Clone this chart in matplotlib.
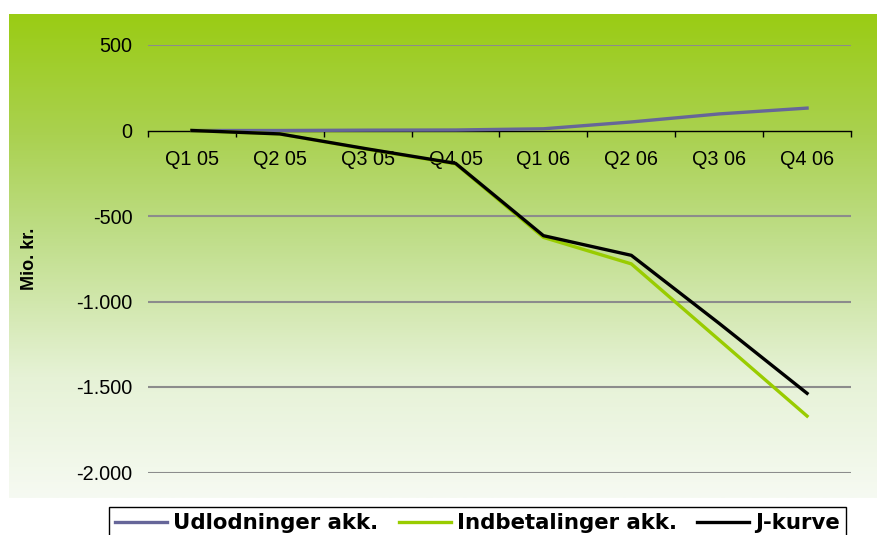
import matplotlib.pyplot as plt
import numpy as np
from matplotlib.ticker import FixedLocator

plt.rcParams['font.family'] = ['Liberation Sans', 'DejaVu Sans']

quarters = ['Q1 05', 'Q2 05', 'Q3 05', 'Q4 05', 'Q1 06', 'Q2 06', 'Q3 06', 'Q4 06']
udlodninger = [0, 0, 2, 3, 10, 50, 97, 131]
indbetalinger = [0, -20, -110, -195, -625, -780, -1225, -1670]
j_kurve = [0, -20, -108, -192, -615, -730, -1128, -1537]
y_ticks = [500, 0, -500, -1000, -1500, -2000]
y_labels = ['500', '0', '-500', '-1.000', '-1.500', '-2.000']

W, H = 878, 535
fig = plt.figure(figsize=(W / 100, H / 100), dpi=100)
fig.patch.set_facecolor('white')

# green-to-white background gradient
bg = fig.add_axes([9 / W, (H - 498) / H, 1 - 9 / W, (498 - 14) / H])
stops = np.array([0.0, 0.25, 0.45, 0.75, 1.0])
cols = np.array([[154, 204, 20], [170, 209, 80], [190, 221, 134],
                 [230, 242, 214], [246, 250, 242]]) / 255.0
t = np.linspace(0, 1, 300)
grad = np.stack([np.interp(t, stops, cols[:, k]) for k in range(3)], axis=1)
bg.imshow(grad[:, None, :], aspect='auto', extent=[0, 1, 0, 1])
bg.axis('off')
bg.set_zorder(0)

ax = fig.add_axes([148 / W, 1 - 472.5 / H, (851 - 148) / W, (472.5 - 45) / H])
ax.set_zorder(1)
ax.patch.set_visible(False)

x = np.arange(len(quarters))
for yv in y_ticks:
    if yv != 0:
        ax.axhline(yv, color='#8c8c8c', lw=1.5, zorder=1)

ax.plot(x, udlodninger, color='#666699', lw=2.4, label='Udlodninger akk.', zorder=3)
ax.plot(x, indbetalinger, color='#99CC00', lw=2.4, label='Indbetalinger akk.', zorder=3)
ax.plot(x, j_kurve, color='black', lw=2.4, label='J-kurve', zorder=4)

ax.set_xlim(-0.5, len(quarters) - 0.5)
ax.set_ylim(-2000, 500)

for s in ['left', 'right', 'top']:
    ax.spines[s].set_visible(False)
ax.spines['bottom'].set_position(('data', 0))
ax.spines['bottom'].set_linewidth(1.0)
ax.spines['bottom'].set_zorder(2)

ax.xaxis.set_major_locator(FixedLocator(np.arange(-0.5, len(quarters), 1.0)))
ax.xaxis.set_minor_locator(FixedLocator(x))
ax.set_xticklabels([], minor=False)
ax.set_xticklabels(quarters, minor=True, fontsize=14.3)
ax.tick_params(axis='x', which='major', direction='out', length=4, width=1)
ax.tick_params(axis='x', which='minor', length=0, pad=14)

ax.set_yticks(y_ticks)
ax.set_yticklabels(y_labels, fontsize=14.3)
ax.tick_params(axis='y', length=0, pad=11)

ax.set_ylabel('Mio. kr.', fontsize=13, fontweight='bold', labelpad=28)

leg = fig.legend(loc='upper left', bbox_to_anchor=(109 / W, 1 - 507 / H), ncol=3,
                 fancybox=False, frameon=True, edgecolor='black', framealpha=1,
                 prop={'family': 'DejaVu Sans', 'weight': 'bold', 'size': 15.3},
                 handlelength=2.45, handletextpad=0.28, columnspacing=0.95,
                 borderpad=0.3, borderaxespad=0)
leg.get_frame().set_linewidth(1.0)

fig.savefig('out.png', dpi=100)
